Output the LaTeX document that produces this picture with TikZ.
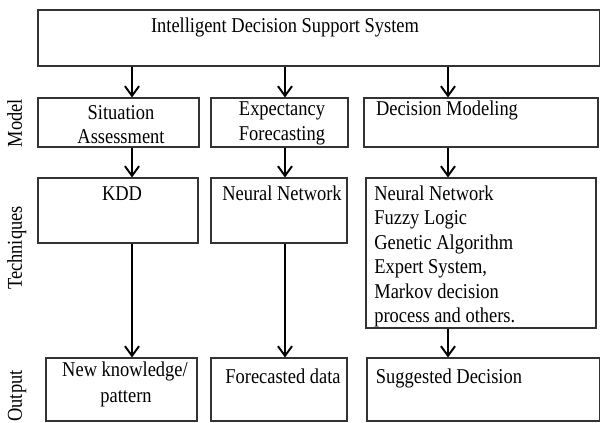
\documentclass[tikz,border=0pt]{standalone}
\usepackage{fontspec}
\setmainfont{Liberation Serif}[FakeStretch=0.875]
\usetikzlibrary{arrows.meta,fit}
\begin{document}
\begin{tikzpicture}[x=0.02cm,y=-0.02cm,
  box/.style={draw=black!80,line width=0.6pt,inner sep=0pt},
  txt/.style={inner sep=0pt,anchor=base,font=\fontsize{12}{13.9}\selectfont},
  ltxt/.style={inner sep=0pt,anchor=base west,font=\fontsize{12}{13.9}\selectfont},
  side/.style={inner sep=0pt,anchor=base,rotate=90,font=\fontsize{12}{13.9}\selectfont},
  arr/.style={line width=1.1pt,-{Straight Barb[length=5.5pt,width=8pt]}}]
\useasboundingbox (0,0) rectangle (600,423);
% boxes
\node[box,fit={(38,10)(599.5,66)}] (top) {};
\node[box,fit={(38,98)(199,147)}] (m1) {};
\node[box,fit={(211,98)(348,147)}] (m2) {};
\node[box,fit={(364,98)(598,147)}] (m3) {};
\node[box,fit={(38,178)(198,243)}] (t1) {};
\node[box,fit={(211,178)(347,243)}] (t2) {};
\node[box,fit={(366,178)(596,328)}] (t3) {};
\node[box,fit={(46,358)(197,421)}] (o1) {};
\node[box,fit={(211,358)(347,421)}] (o2) {};
\node[box,fit={(367,358)(599.5,421)}] (o3) {};
% texts
\node[txt] (toptxt) at (285,32) {Intelligent Decision Support System};
\node[txt] (m1a) at (121,119) {Situation};
\node[txt] (m1b) at (121,143) {Assessment};
\node[txt] (m2a) at (282,115) {Expectancy};
\node[txt] (m2b) at (282,140) {Forecasting};
\node[txt] (m3a) at (447,115) {Decision Modeling};
\node[txt] (t1a) at (122,200) {KDD};
\node[txt] (t2a) at (282,200) {Neural Network};
\node[ltxt] (t3a) at (374,200) {Neural Network};
\node[ltxt] (t3b) at (374,224.5) {Fuzzy Logic};
\node[ltxt] (t3c) at (374,249) {Genetic Algorithm};
\node[ltxt] (t3d) at (374,273.5) {Expert System,};
\node[ltxt] (t3e) at (374,298) {Markov decision};
\node[ltxt] (t3f) at (374,322.5) {process and others.};
\node[txt] (o1a) at (125,376) {New knowledge/};
\node[txt] (o1b) at (126,402) {pattern};
\node[txt] (o2a) at (283,383) {Forecasted data};
\node[txt] (o3a) at (449,383) {Suggested Decision};
% side labels
\node[side] (lm) at (22,123) {Model};
\node[side] (lt) at (22,248) {Techniques};
\node[side] (lo) at (22,396) {Output};
% arrows
\coordinate (c1) at (132,0);
\coordinate (c2) at (285,0);
\coordinate (c3) at (448,0);
\draw[arr] (c1 |- top.south) -- (c1 |- m1.north);
\draw[arr] (c2 |- top.south) -- (c2 |- m2.north);
\draw[arr] (c3 |- top.south) -- (c3 |- m3.north);
\draw[arr] (c1 |- m1.south) -- (c1 |- t1.north);
\draw[arr] (c2 |- m2.south) -- (c2 |- t2.north);
\draw[arr] (c3 |- m3.south) -- (c3 |- t3.north);
\draw[arr] (c1 |- t1.south) -- (c1 |- o1.north);
\draw[arr] (c2 |- t2.south) -- (c2 |- o2.north);
\draw[arr] (c3 |- t3.south) -- (c3 |- o3.north);
\end{tikzpicture}
\end{document}
